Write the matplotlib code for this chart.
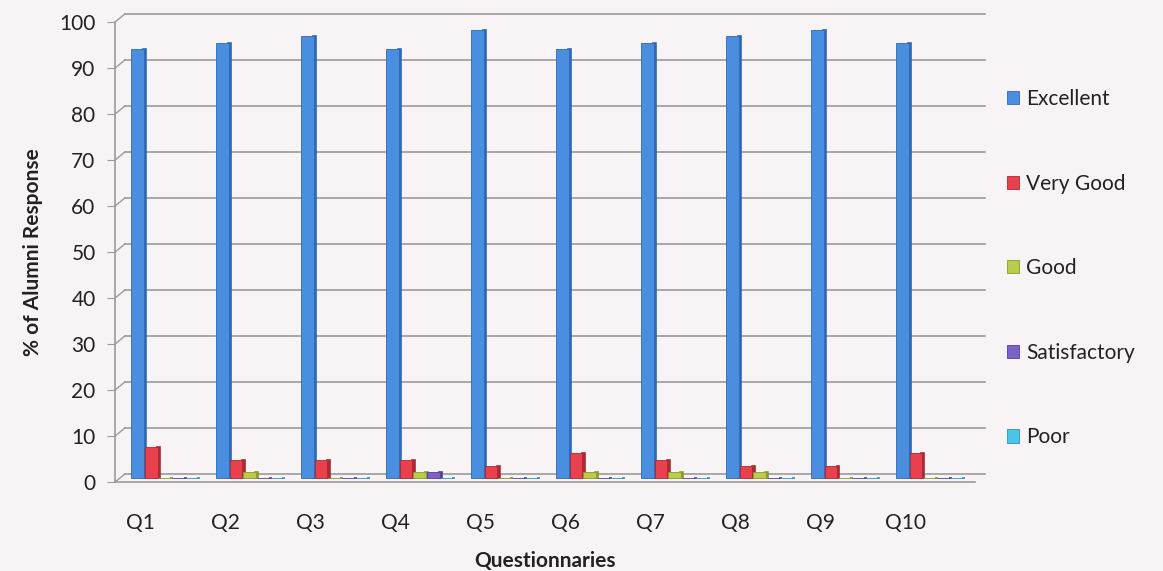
import numpy as np
import matplotlib.pyplot as plt
from matplotlib.transforms import ScaledTranslation

plt.rcParams['font.family'] = ['Lato', 'DejaVu Sans']

questions = ['Q1', 'Q2', 'Q3', 'Q4', 'Q5', 'Q6', 'Q7', 'Q8', 'Q9', 'Q10']
excellent = [93.33, 94.67, 96.0, 93.33, 97.33, 93.33, 94.67, 96.0, 97.33, 94.67]
very_good = [6.67, 4.0, 4.0, 4.0, 2.67, 5.33, 4.0, 2.67, 2.67, 5.33]
good = [0, 1.33, 0, 1.33, 0, 1.33, 1.33, 1.33, 0, 0]
satisfactory = [0, 0, 0, 1.33, 0, 0, 0, 0, 0, 0]
poor = [0, 0, 0, 0, 0, 0, 0, 0, 0, 0]

series = [('Excellent', excellent), ('Very Good', very_good), ('Good', good),
          ('Satisfactory', satisfactory), ('Poor', poor)]
fronts = ['#4a8ee0', '#e8404c', '#bccc4a', '#7b62c8', '#4cc4e8']
sides = ['#2f68b5', '#a82a35', '#8a9a2a', '#52409a', '#2a93b8']

bg = '#f8f4f6'
fig = plt.figure(figsize=(11.63, 5.71), dpi=100, facecolor=bg)
ax = fig.add_axes([115/1163, 89/571, 860/1163, 460/571])
ax.set_facecolor(bg)

# bars sit half-way into the 3-D floor
mid = ScaledTranslation(3/100, 4/100, fig.dpi_scale_trans)

x = np.arange(len(questions))
step = 0.16
w = 0.15
sw = 0.035
for k, (name, vals) in enumerate(series):
    c = x - 0.07 + step * k
    side = ax.bar(c + w/2 + sw/2 - 0.01, vals, width=sw, color=sides[k], edgecolor=sides[k],
                  lw=1.2, zorder=3 + k * 0.1)
    front = ax.bar(c, vals, width=w, color=fronts[k], edgecolor=sides[k], lw=0.6,
                   label=name, zorder=3.05 + k * 0.1)
    for p in list(side) + list(front):
        p.set_transform(ax.transData + mid)

# back-wall gridlines, shifted like the 3-D wall
off = ScaledTranslation(10/100, 8/100, fig.dpi_scale_trans)
yt = np.arange(0, 101, 10)
for v in yt:
    ax.plot([0, 1], [v, v], transform=ax.get_yaxis_transform() + off,
            color='#9a9a9a', lw=1.2, zorder=1, clip_on=False)
    ax.annotate('', xy=(0, v), xycoords=ax.get_yaxis_transform(),
                xytext=(7.2, 5.8), textcoords='offset points',
                arrowprops=dict(arrowstyle='-', color='#9a9a9a', lw=1.0,
                                shrinkA=0, shrinkB=0))

ax.set_xlim(-0.3, 9.82)
ax.set_ylim(0, 100)
ax.set_yticks(yt)
ax.set_xticks(x)
ax.set_xticklabels(questions)
for s in ['top', 'right']:
    ax.spines[s].set_visible(False)
ax.spines['left'].set_color('#9a9a9a')
ax.spines['bottom'].set_color('#9a9a9a')
ax.spines['left'].set_linewidth(1.2)
ax.spines['bottom'].set_linewidth(1.2)
ax.tick_params(axis='y', length=6, color='#9a9a9a', labelsize=15, pad=8, labelcolor='#222222')
ax.tick_params(axis='x', length=0, labelsize=15, pad=22, labelcolor='#222222')

ax.set_xlabel('Questionnaries', fontsize=15, fontweight='bold', labelpad=13, color='#222222')
ax.set_ylabel('% of Alumni Response', fontsize=15, fontweight='bold', labelpad=12, color='#222222')

ax.legend(loc='upper left', bbox_to_anchor=(1.015, 0.895), frameon=False, fontsize=15,
          handlelength=0.6, handleheight=0.6, handletextpad=0.35, labelspacing=3.1,
          labelcolor='#222222')

plt.savefig('out.png', dpi=100, facecolor=bg)
